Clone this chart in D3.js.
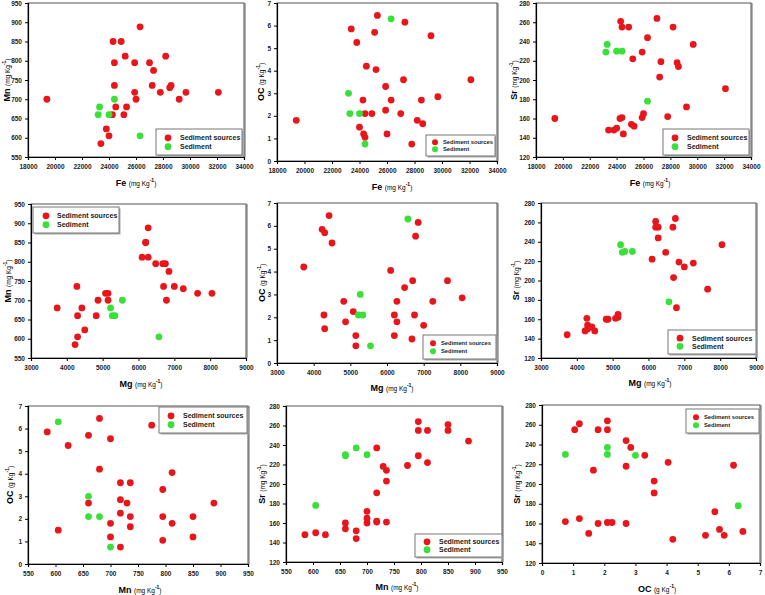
<!DOCTYPE html>
<html><head><meta charset="utf-8">
<script src="https://cdn.jsdelivr.net/npm/d3@7"></script>
<style>
html,body{margin:0;padding:0;background:#fff;}
svg{display:block;font-family:"Liberation Sans",Arial,sans-serif;}
</style></head>
<body>
<svg id="c" width="765" height="595"></svg>
<script>
// Sediment sources (27 samples)
const srcFe = [19400,23400,23800,24000,24250,24300,24400,24400,24500,24900,25100,25200,25300,25900,25900,26000,26300,27000,27200,27300,27800,28200,28500,28600,29200,29700,32100];
const srcMn = [700,585,623,605,660,850,795,736,680,850,660,812,680,795,718,700,888,795,736,775,718,812,730,736,700,718,718];
const srcMg = [4870,4230,4500,4300,4820,6200,6680,4280,3730,6200,4300,6100,4420,6480,5080,5150,6270,6750,6700,6850,5150,6270,7250,7000,6780,8050,7650];
const srcOC = [1.8,5.85,5.25,1.5,2.7,1.2,1.05,2.1,4.2,2.1,5.7,4.05,6.45,3.3,2.25,1.2,2.7,2.1,3.6,6.15,0.75,1.8,2.7,1.65,5.55,2.85,3.6];
const srcSr = [160,148,148,150,160,261,255,161,144,255,154,222,152,229,161,165,244,264,203,219,162,255,218,214,172,237,191];
// Sediment (5 samples)
const sedFe = [26300,24400,23300,23200,24000];
const sedMn = [605,700,680,660,660];
const sedMg = [6570,5550,5220,5270,5340];
const sedOC = [6.3,0.75,2.1,3.0,2.1];
const sedSr = [178,230,237,229,230];
// Tick labels
const feTicks = [18000,20000,22000,24000,26000,28000,30000,32000,34000];
const mnTicks = [550,600,650,700,750,800,850,900,950];
const mgTicks = [3000,4000,5000,6000,7000,8000,9000];
const ocTicks = [0,1,2,3,4,5,6,7];
const srTicks = [120,140,160,180,200,220,240,260,280];
const legendLabels = ["Sediment sources","Sediment"];
const seriesColors = ["#e8161b","#38e038"];

const vars = {
  Fe:{src:srcFe, sed:srcFe && sedFe, ticks:feTicks, name:"Fe", unit:"(mg Kg", },
  Mn:{src:srcMn, sed:sedMn, ticks:mnTicks, name:"Mn", unit:"(mg Kg"},
  Mg:{src:srcMg, sed:sedMg, ticks:mgTicks, name:"Mg", unit:"(mg Kg"},
  OC:{src:srcOC, sed:sedOC, ticks:ocTicks, name:"OC", unit:"(g Kg"},
  Sr:{src:srcSr, sed:sedSr, ticks:srTicks, name:"Sr", unit:"(mg Kg"}
};

const panels = [
 {x:"Fe",y:"Mn",f:[28,3,244,157],xl:[136,186],yl:10,lg:[156,129,86,26,7,12,24]},
 {x:"Fe",y:"OC",f:[277,3,497,161],xl:[392,190],yl:264,lg:[426,135,69,21,5.8,9,17]},
 {x:"Fe",y:"Sr",f:[536,3,751,157],xl:[650,186],yl:517,lg:[663,129,86,26,7,12,24]},
 {x:"Mg",y:"Mn",f:[31,204,246,358],xl:[141,387],yl:11,lg:[33,207,86,26,7,13,24]},
 {x:"Mg",y:"OC",f:[277,203,497,363],xl:[392,391],yl:265,lg:[423,335,73,24,5.8,10,18]},
 {x:"Mg",y:"Sr",f:[541,203,756,358],xl:[650,386],yl:519,lg:[668,330,88,24,7,12,24]},
 {x:"Mn",y:"OC",f:[28,406,248,564],xl:[140,593],yl:13,lg:[159,407,88,26,7,12,24]},
 {x:"Mn",y:"Sr",f:[286,406,502,562],xl:[397,590],yl:265,lg:[415,534,87,23,7,12,24]},
 {x:"OC",y:"Sr",f:[542,405,760,563],xl:[657,592],yl:520,lg:[686,409,73,24,5.8,10,18]}
];

const svg = d3.select("#c");

function axisTitle(g, v, x, y, rot){
  const t = g.append("text").attr("text-anchor","middle").attr("fill","#000")
    .attr("font-weight","bold")
    .attr("transform", rot ? `translate(${x},${y}) rotate(-90)` : `translate(${x},${y})`);
  t.append("tspan").attr("font-size",9).text(v.name+" ");
  t.append("tspan").attr("font-size",6.5).attr("font-weight","normal").text(v.unit);
  t.append("tspan").attr("font-size",5).attr("dy",-4).text("-1");
  t.append("tspan").attr("font-size",6.5).attr("dy",4).attr("font-weight","normal").text(")");
}

panels.forEach(p=>{
  const X = vars[p.x], Y = vars[p.y];
  const [l,t,r,b] = p.f;
  const xs = d3.scaleLinear().domain(d3.extent(X.ticks)).range([l,r]);
  const ys = d3.scaleLinear().domain(d3.extent(Y.ticks)).range([b,t]);
  const g = svg.append("g");
  // frame
  g.append("line").attr("x1",r+1).attr("x2",r+1).attr("y1",t).attr("y2",b).attr("stroke","#999").attr("stroke-width",1.5);
  g.append("rect").attr("x",l).attr("y",t).attr("width",r-l).attr("height",b-t)
    .attr("fill","none").attr("stroke","#555").attr("stroke-width",1);
  const ax = g.append("g").attr("transform",`translate(0,${b})`)
    .call(d3.axisBottom(xs).tickValues(X.ticks).tickSize(3).tickPadding(4).tickFormat(d3.format("d")));
  const ay = g.append("g").attr("transform",`translate(${l},0)`)
    .call(d3.axisLeft(ys).tickValues(Y.ticks).tickSize(3).tickPadding(3).tickFormat(d3.format("d")));
  [ax,ay].forEach(a=>{
    a.select(".domain").attr("stroke","#000").attr("stroke-width",1.2);
    a.selectAll("text").attr("font-size",6.5).attr("font-weight","bold").attr("fill","#222")
      .attr("font-family","'Liberation Sans',Arial,sans-serif");
  });
  // points
  const src = X.src.map((d,i)=>[d, Y.src[i]]);
  const sed = X.sed.map((d,i)=>[d, Y.sed[i]]);
  g.append("g").selectAll("circle").data(src).join("circle")
    .attr("cx",d=>xs(d[0])).attr("cy",d=>ys(d[1])).attr("r",3.4).attr("fill",seriesColors[0]);
  g.append("g").selectAll("circle").data(sed).join("circle")
    .attr("cx",d=>xs(d[0])).attr("cy",d=>ys(d[1])).attr("r",3.4).attr("fill",seriesColors[1]);
  // axis titles
  axisTitle(g, X, p.xl[0], p.xl[1], false);
  axisTitle(g, Y, p.yl, (t+b)/2, true);
  // legend
  const [lx,ly,lw,lh,fs,mx,tx] = p.lg;
  g.append("rect").attr("x",lx+1.5).attr("y",ly+1.5).attr("width",lw).attr("height",lh).attr("fill","#aaa");
  g.append("rect").attr("x",lx).attr("y",ly).attr("width",lw).attr("height",lh)
    .attr("fill","#fff").attr("stroke","#777").attr("stroke-width",1);
  legendLabels.forEach((lab,i)=>{
    const yy = ly + lh*(i===0?0.34:0.68);
    g.append("circle").attr("cx",lx+mx).attr("cy",yy).attr("r",fs>6.5?3.4:3).attr("fill",seriesColors[i]);
    g.append("text").attr("x",lx+tx).attr("y",yy).attr("dy","0.35em")
      .attr("font-size",fs).attr("font-weight","bold").attr("fill","#222").text(lab);
  });
});
</script>
</body></html>
